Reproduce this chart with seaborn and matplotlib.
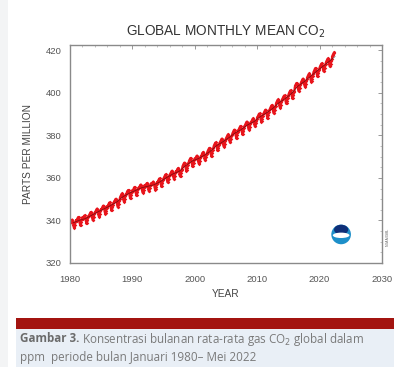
import numpy as np
import pandas as pd
import matplotlib
matplotlib.use("Agg")
import matplotlib.pyplot as plt
import matplotlib.patches as mpatches
import seaborn as sns

# Global monthly mean CO2 (ppm), January 1980 - May 2022, one row per year
years = list(range(1980, 2023))
monthly_ppm = [
    [338.7, 339.3, 339.8, 340.3, 340.4, 339.5, 337.8, 336.6, 336.7, 338.0, 339.4, 340.2],
    [339.9, 340.5, 341.0, 341.5, 341.6, 340.7, 339.0, 337.8, 337.9, 339.2, 340.6, 341.4],
    [340.7, 341.3, 341.8, 342.3, 342.4, 341.5, 339.8, 338.6, 338.7, 340.0, 341.4, 342.2],
    [342.3, 342.9, 343.4, 343.9, 344.0, 343.1, 341.4, 340.2, 340.3, 341.6, 343.0, 343.8],
    [343.9, 344.5, 345.0, 345.5, 345.6, 344.7, 343.0, 341.8, 341.9, 343.2, 344.6, 345.4],
    [345.3, 345.9, 346.4, 346.9, 347.0, 346.1, 344.4, 343.2, 343.3, 344.6, 346.0, 346.8],
    [346.8, 347.4, 347.9, 348.4, 348.5, 347.6, 345.9, 344.7, 344.8, 346.1, 347.5, 348.3],
    [348.5, 349.1, 349.6, 350.1, 350.2, 349.3, 347.6, 346.4, 346.5, 347.8, 349.2, 350.0],
    [351.0, 351.6, 352.1, 352.6, 352.7, 351.8, 350.1, 348.9, 349.0, 350.3, 351.7, 352.5],
    [352.6, 353.2, 353.7, 354.2, 354.3, 353.4, 351.7, 350.5, 350.6, 351.9, 353.3, 354.1],
    [353.9, 354.5, 355.0, 355.5, 355.6, 354.7, 353.0, 351.8, 351.9, 353.2, 354.6, 355.4],
    [355.2, 355.8, 356.3, 356.8, 356.9, 356.0, 354.3, 353.1, 353.2, 354.5, 355.9, 356.7],
    [355.9, 356.5, 357.0, 357.5, 357.6, 356.7, 355.0, 353.8, 353.9, 355.2, 356.6, 357.4],
    [356.6, 357.2, 357.7, 358.2, 358.3, 357.4, 355.7, 354.5, 354.6, 355.9, 357.3, 358.1],
    [358.1, 358.7, 359.2, 359.7, 359.8, 358.9, 357.2, 356.0, 356.1, 357.4, 358.8, 359.6],
    [360.0, 360.6, 361.1, 361.6, 361.7, 360.8, 359.1, 357.9, 358.0, 359.3, 360.7, 361.5],
    [361.7, 362.3, 362.8, 363.3, 363.4, 362.5, 360.8, 359.6, 359.7, 361.0, 362.4, 363.2],
    [362.9, 363.5, 364.0, 364.5, 364.6, 363.7, 362.0, 360.8, 360.9, 362.2, 363.6, 364.4],
    [365.5, 366.1, 366.6, 367.1, 367.2, 366.3, 364.6, 363.4, 363.5, 364.8, 366.2, 367.0],
    [367.6, 368.2, 368.7, 369.2, 369.3, 368.4, 366.7, 365.5, 365.6, 366.9, 368.3, 369.1],
    [368.8, 369.4, 369.9, 370.4, 370.5, 369.6, 367.9, 366.7, 366.8, 368.1, 369.5, 370.3],
    [370.4, 371.0, 371.5, 372.0, 372.1, 371.2, 369.5, 368.3, 368.4, 369.7, 371.1, 371.9],
    [372.4, 373.0, 373.5, 374.0, 374.1, 373.2, 371.5, 370.3, 370.4, 371.7, 373.1, 373.9],
    [375.0, 375.6, 376.1, 376.6, 376.7, 375.8, 374.1, 372.9, 373.0, 374.3, 375.7, 376.5],
    [376.8, 377.4, 377.9, 378.4, 378.5, 377.6, 375.9, 374.7, 374.8, 376.1, 377.5, 378.3],
    [378.8, 379.4, 379.9, 380.4, 380.5, 379.6, 377.9, 376.7, 376.8, 378.1, 379.5, 380.3],
    [381.0, 381.6, 382.1, 382.6, 382.7, 381.8, 380.1, 378.9, 379.0, 380.3, 381.7, 382.5],
    [382.7, 383.3, 383.8, 384.3, 384.4, 383.5, 381.8, 380.6, 380.7, 382.0, 383.4, 384.2],
    [384.8, 385.4, 385.9, 386.4, 386.5, 385.6, 383.9, 382.7, 382.8, 384.1, 385.5, 386.3],
    [386.3, 386.9, 387.4, 387.9, 388.0, 387.1, 385.4, 384.2, 384.3, 385.6, 387.0, 387.8],
    [388.6, 389.2, 389.7, 390.2, 390.3, 389.4, 387.7, 386.5, 386.6, 387.9, 389.3, 390.1],
    [390.4, 391.0, 391.5, 392.0, 392.1, 391.2, 389.5, 388.3, 388.4, 389.7, 391.1, 391.9],
    [392.5, 393.1, 393.6, 394.1, 394.2, 393.3, 391.6, 390.4, 390.5, 391.8, 393.2, 394.0],
    [395.2, 395.8, 396.3, 396.8, 396.9, 396.0, 394.3, 393.1, 393.2, 394.5, 395.9, 396.7],
    [397.1, 397.7, 398.2, 398.7, 398.8, 397.9, 396.2, 395.0, 395.1, 396.4, 397.8, 398.6],
    [399.5, 400.1, 400.6, 401.1, 401.2, 400.3, 398.6, 397.4, 397.5, 398.8, 400.2, 401.0],
    [402.9, 403.5, 404.0, 404.5, 404.6, 403.7, 402.0, 400.8, 400.9, 402.2, 403.6, 404.4],
    [405.0, 405.6, 406.1, 406.6, 406.7, 405.8, 404.1, 402.9, 403.0, 404.3, 405.7, 406.5],
    [407.4, 408.0, 408.5, 409.0, 409.1, 408.2, 406.5, 405.3, 405.4, 406.7, 408.1, 408.9],
    [409.9, 410.5, 411.0, 411.5, 411.6, 410.7, 409.0, 407.8, 407.9, 409.2, 410.6, 411.4],
    [412.2, 412.8, 413.3, 413.8, 413.9, 413.0, 411.3, 410.1, 410.2, 411.5, 412.9, 413.7],
    [414.5, 415.1, 415.6, 416.1, 416.2, 415.3, 413.6, 412.4, 412.5, 413.8, 415.2, 416.0],
    [417.2, 417.9, 418.4, 418.9, 419.1],
]

# Deseasonalized trend: annual means, plotted at mid-year
annual_mean = [338.9, 340.1, 340.9, 342.5, 344.1, 345.5, 347.0, 348.7, 351.2, 352.8,
               354.1, 355.4, 356.1, 356.8, 358.3, 360.2, 361.9, 363.1, 365.7, 367.8,
               369.0, 370.6, 372.6, 375.2, 377.0, 379.0, 381.2, 382.9, 385.0, 386.5,
               388.8, 390.6, 392.7, 395.4, 397.3, 399.7, 403.1, 405.2, 407.6, 410.1,
               412.4, 414.7, 417.1]

x_ticks = [1980, 1990, 2000, 2010, 2020, 2030]
y_ticks = [320, 340, 360, 380, 400, 420]

rows = []
for yr, vals in zip(years, monthly_ppm):
    for m, v in enumerate(vals):
        rows.append({"date": yr + (m + 0.5) / 12.0, "ppm": v})
monthly = pd.DataFrame(rows)
trend = pd.DataFrame({"date": [y + 0.5 for y in years], "ppm": annual_mean})

sns.set_theme(style="white")
plt.rcParams["font.family"] = ["Liberation Sans", "DejaVu Sans"]

fig = plt.figure(figsize=(3.94, 3.67), dpi=100)
fig.patch.set_facecolor("white")

# page panels: light left strip, caption box, red rule
fig.patches.append(mpatches.Rectangle((0, 0), 8 / 394, 1, transform=fig.transFigure,
                                      facecolor="#f3f4f5", edgecolor="none", zorder=0))
fig.patches.append(mpatches.Rectangle((16 / 394, 0), 1, 38 / 367, transform=fig.transFigure,
                                      facecolor="#e9eff6", edgecolor="none", zorder=0))
fig.patches.append(mpatches.Rectangle((16 / 394, 38 / 367), 1, 11 / 367, transform=fig.transFigure,
                                      facecolor="#a31410", edgecolor="none", zorder=1))

ax = fig.add_axes([70 / 394, 1 - 263 / 367, 312 / 394, 218 / 367])
ax.set_facecolor("white")

sns.lineplot(data=monthly, x="date", y="ppm", ax=ax, color="#e8141b", lw=1.6,
             marker="D", markersize=1.8, markeredgewidth=0, estimator=None, sort=False)
sns.lineplot(data=trend, x="date", y="ppm", ax=ax, color="#3a0a0a", lw=0.5, alpha=0.7,
             estimator=None, sort=False)

ax.set_xlim(1980, 2030)
ax.set_ylim(320, 422.5)
ax.set_xticks(x_ticks)
ax.set_yticks(y_ticks)
ax.set_xticklabels([str(t) for t in x_ticks], fontsize=6.8, color="#555555")
ax.set_yticklabels([str(t) for t in y_ticks], fontsize=6.8, color="#555555")
ax.tick_params(axis="y", direction="in", length=3, width=0.6, color="#888888",
               right=True, pad=6)
ax.tick_params(axis="x", direction="in", length=3, width=0.6, color="#888888",
               top=True, pad=9)
ax.minorticks_on()
ax.tick_params(which="minor", direction="in", length=1.5, width=0.5, color="#aaaaaa",
               top=True, right=True)
for s in ax.spines.values():
    s.set_color("#8a8a8a")
    s.set_linewidth(1.0)

ax.set_xlabel("YEAR", fontsize=7.3, color="#444444", labelpad=3)
ax.set_ylabel("PARTS PER MILLION", fontsize=7.3, color="#444444", labelpad=9)
ax.set_title("GLOBAL MONTHLY MEAN CO$_2$", fontsize=9.8, color="#333333", pad=7)

# agency emblem in the lower-right corner
cx, cy, r = 0.869, 0.131, 0.045
ax.add_patch(mpatches.Ellipse((cx, cy), 2 * r * 218 / 312, 2 * r, transform=ax.transAxes,
                              facecolor="#1d8fc9", edgecolor="none", zorder=5))
ax.add_patch(mpatches.Ellipse((cx, cy + 0.022), 1.45 * r * 218 / 312, 1.0 * r,
                              transform=ax.transAxes, facecolor="#0f2f78",
                              edgecolor="none", zorder=6))
ax.add_patch(mpatches.Ellipse((cx, cy - 0.004), 1.7 * r * 218 / 312, 0.55 * r,
                              transform=ax.transAxes, facecolor="white",
                              edgecolor="none", zorder=7))
ax.text(1.012, 0.12, "NOAA/GML", transform=ax.transAxes, rotation=90, fontsize=2.5,
        color="#666666", ha="left", va="center")

# caption
cap_font = ["Open Sans", "DejaVu Sans"]
cap_size = 8.4
head = fig.text(20 / 394, 1 - 339 / 367, "Gambar 3.", fontsize=cap_size, color="#6b6b6b",
                fontweight="bold", family=cap_font, va="center")
fig.canvas.draw()
bb = head.get_window_extent(fig.canvas.get_renderer())
fig.text((bb.x1 + 3) / 394, 1 - 339 / 367,
         "Konsentrasi bulanan rata-rata gas CO$_2$ global dalam",
         fontsize=cap_size, color="#7a7a7a", family=cap_font, va="center")
fig.text(20 / 394, 1 - 358 / 367, "ppm  periode bulan Januari 1980\u2013 Mei 2022",
         fontsize=cap_size, color="#7a7a7a", family=cap_font, va="center")

fig.savefig("out.png", dpi=100, facecolor=fig.get_facecolor())
